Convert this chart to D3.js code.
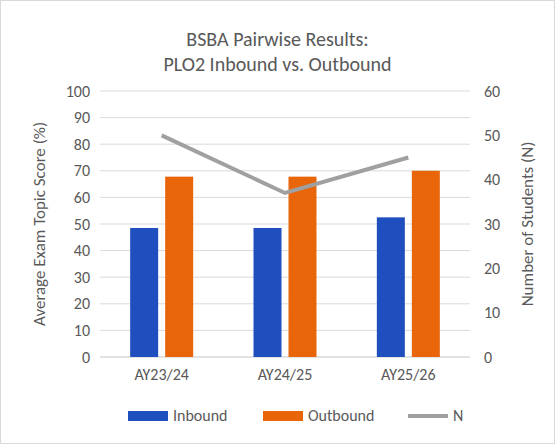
<!DOCTYPE html>
<html>
<head>
<meta charset="utf-8">
<script src="https://d3js.org/d3.v7.min.js"></script>
<style>
  body { margin: 0; background: #fff; }
  text { font-family: Calibri, Carlito, "Liberation Sans", sans-serif; fill: #595959; }
</style>
</head>
<body>
<div id="chart"></div>
<script>
"use strict"

var categorias = ["AY23/24", "AY24/25", "AY25/26"];
var inbound = [48.5, 48.5, 52.5];
var outbound = [67.8, 67.8, 70];
var alunosN = [50, 37, 45];
var ticksEsq = [0, 10, 20, 30, 40, 50, 60, 70, 80, 90, 100];
var ticksDir = [0, 10, 20, 30, 40, 50, 60];

var largura = 555, altura = 444;
var margin = {top: 91, right: 85, bottom: 87, left: 100};
var w = largura - margin.left - margin.right,
    h = altura - margin.top - margin.bottom;

var svg = d3.select('#chart').append('svg')
  .attr('width', largura).attr('height', altura);

svg.append('rect').attr('x', 0.5).attr('y', 0.5)
  .attr('width', largura - 1).attr('height', altura - 1)
  .attr('fill', '#fff').attr('stroke', '#d9d9d9');

svg.append('text').attr('x', largura / 2).attr('y', 46).attr('text-anchor', 'middle')
  .style('font-size', '20px').text('BSBA Pairwise Results:');
svg.append('text').attr('x', largura / 2).attr('y', 71).attr('text-anchor', 'middle')
  .style('font-size', '20px').text('PLO2 Inbound vs. Outbound');

var g = svg.append('g').attr('transform', 'translate(' + margin.left + ',' + margin.top + ')');

var x = d3.scaleBand().domain(categorias).range([0, w]);
var y = d3.scaleLinear().domain([0, 100]).range([h, 0]);
var y2 = d3.scaleLinear().domain([0, 60]).range([h, 0]);

// grade
g.selectAll('.grid').data(ticksEsq).enter().append('line')
  .attr('x1', 0).attr('x2', w)
  .attr('y1', d => y(d)).attr('y2', d => y(d))
  .attr('stroke', '#d9d9d9');

// eixos
var eixoEsq = g.append('g').call(d3.axisLeft(y).tickValues(ticksEsq).tickSize(0).tickPadding(10));
var eixoDir = g.append('g').attr('transform', 'translate(' + w + ',0)')
  .call(d3.axisRight(y2).tickValues(ticksDir).tickSize(0).tickPadding(14));
var eixoX = g.append('g').attr('transform', 'translate(0,' + h + ')')
  .call(d3.axisBottom(x).tickSize(0).tickPadding(12));
[eixoEsq, eixoDir, eixoX].forEach(function (e) {
  e.select('.domain').remove();
  e.selectAll('text').style('font-size', '16px').attr('fill', '#595959')
    .style('font-family', 'Calibri, Carlito, "Liberation Sans", sans-serif');
});
g.append('line').attr('x1', 0).attr('x2', w).attr('y1', h).attr('y2', h).attr('stroke', '#d9d9d9');

var larguraBarra = 28, gap = 7;
g.selectAll('.inb').data(inbound).enter().append('rect')
  .attr('x', (d, i) => x(categorias[i]) + x.bandwidth() / 2 - larguraBarra - gap / 2)
  .attr('width', larguraBarra)
  .attr('y', d => y(d)).attr('height', d => h - y(d))
  .attr('fill', '#1f4fbf');
g.selectAll('.out').data(outbound).enter().append('rect')
  .attr('x', (d, i) => x(categorias[i]) + x.bandwidth() / 2 + gap / 2)
  .attr('width', larguraBarra)
  .attr('y', d => y(d)).attr('height', d => h - y(d))
  .attr('fill', '#e8650a');

var linha = d3.line()
  .x((d, i) => x(categorias[i]) + x.bandwidth() / 2)
  .y(d => y2(d));
g.append('path').datum(alunosN).attr('d', linha)
  .attr('fill', 'none').attr('stroke', '#a0a0a0').attr('stroke-width', 4);

// titulos dos eixos
svg.append('text').attr('transform', 'translate(45,' + (margin.top + h / 2) + ') rotate(-90)')
  .attr('text-anchor', 'middle').style('font-size', '17px').text('Average Exam Topic Score (%)');
svg.append('text').attr('transform', 'translate(533,' + (margin.top + h / 2) + ') rotate(-90)')
  .attr('text-anchor', 'middle').style('font-size', '17px').text('Number of Students (N)');

// legenda
var leg = svg.append('g').attr('transform', 'translate(0,416)');
leg.append('rect').attr('x', 128).attr('y', -5).attr('width', 40).attr('height', 10).attr('fill', '#1f4fbf');
leg.append('text').attr('x', 173).attr('y', 5).style('font-size', '16px').text('Inbound');
leg.append('rect').attr('x', 263).attr('y', -5).attr('width', 40).attr('height', 10).attr('fill', '#e8650a');
leg.append('text').attr('x', 308).attr('y', 5).style('font-size', '16px').text('Outbound');
leg.append('line').attr('x1', 408).attr('x2', 448).attr('y1', 0).attr('y2', 0)
  .attr('stroke', '#a0a0a0').attr('stroke-width', 4);
leg.append('text').attr('x', 453).attr('y', 5).style('font-size', '16px').text('N');
</script>
</body>
</html>
